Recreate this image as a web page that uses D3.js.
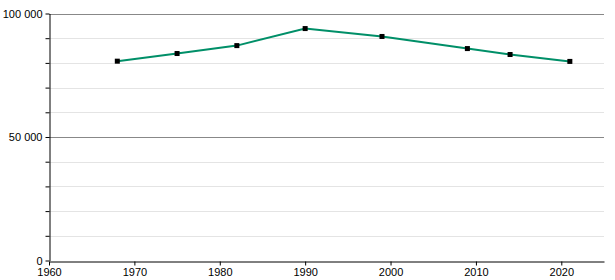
<html>
    <head>
        <title>Population</title>
        <style>
            body { margin: 0; background: #fff; }
            text { font-family: "Liberation Sans", Arial, sans-serif; font-size: 11px; fill: #000; }
        </style>
    </head>
    <body>
        <svg id="container" width="615" height="280"></svg>
    </body>
    <script src="https://d3js.org/d3.v7.min.js"></script>
    <script>
        let years = [1968, 1975, 1982, 1990, 1999, 2009, 2014, 2021]
        let population = [80700, 83800, 87000, 93900, 90700, 85800, 83400, 80600]
        let yTicks = [0, 50000, 100000]
        let xTicks = [1960, 1970, 1980, 1990, 2000, 2010, 2020]

        let container = d3.select("#container")
        let fmt = d => d3.format(",")(d).replace(/,/g, " ")

        let x = d3.scaleLinear().domain([1960, 2025]).range([49, 604])
        let y = d3.scaleLinear().domain([0, 100000]).range([260.5, 13.5])

        let minor = d3.range(0, 100001, 10000)

        // light gridlines
        container.append("g").selectAll("line")
            .data(minor.filter(d => !yTicks.includes(d)))
            .enter().append("line")
            .attr("x1", x(1960)).attr("x2", x(2025))
            .attr("y1", d => Math.round(y(d)) + 0.5).attr("y2", d => Math.round(y(d)) + 0.5)
            .attr("stroke", "#e4e4e4")

        // major gridlines
        container.append("g").selectAll("line")
            .data(yTicks.filter(d => d > 0))
            .enter().append("line")
            .attr("x1", x(1960)).attr("x2", x(2025))
            .attr("y1", d => Math.round(y(d)) + 0.5).attr("y2", d => Math.round(y(d)) + 0.5)
            .attr("stroke", "#888")

        // y axis
        let yAxis = container.append("g")
            .attr("transform", "translate(" + (x(1960) + 0.5) + ",0)")
            .call(d3.axisLeft(y).tickValues(minor).tickSize(4).tickSizeOuter(0)
                .tickFormat(d => yTicks.includes(d) ? fmt(d) : ""))
        yAxis.select(".domain").attr("stroke", "#000")
        yAxis.selectAll("text").attr("font-size", 11).attr("font-family", "Liberation Sans, Arial, sans-serif")

        // x axis
        let xAxis = container.append("g")
            .attr("transform", "translate(0," + (Math.round(y(0)) + 0.5) + ")")
            .call(d3.axisBottom(x).tickValues(xTicks).tickSize(4).tickSizeOuter(0).tickFormat(d3.format("d")))
        xAxis.selectAll("text").attr("font-size", 11).attr("font-family", "Liberation Sans, Arial, sans-serif")

        let points = years.map((d, i) => [d, population[i]])

        container.append("path")
            .datum(points)
            .attr("fill", "none")
            .attr("stroke", "#008f68")
            .attr("stroke-width", 2)
            .attr("d", d3.line().x(d => x(d[0])).y(d => y(d[1])))

        container.append("g").selectAll("rect")
            .data(points)
            .enter().append("rect")
            .attr("x", d => x(d[0]) - 2.5)
            .attr("y", d => y(d[1]) - 2.5)
            .attr("width", 5)
            .attr("height", 5)
            .attr("fill", "#000")
    </script>
</html>
